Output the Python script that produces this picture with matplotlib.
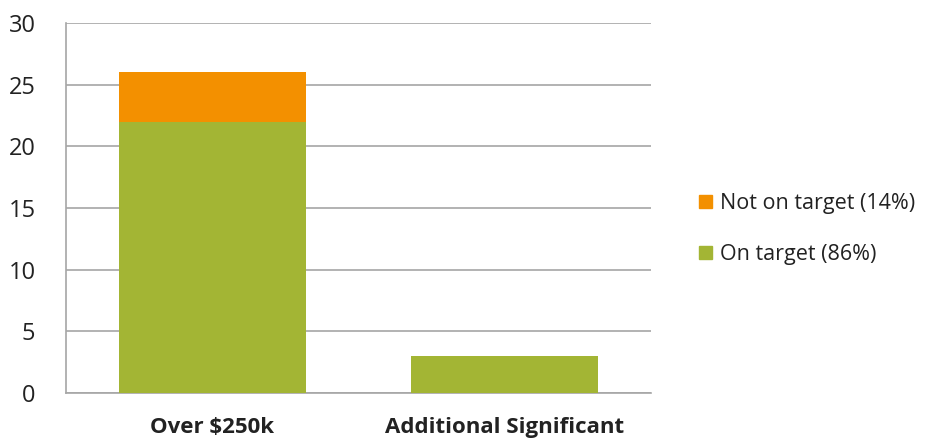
import matplotlib

matplotlib.use("Agg")
import matplotlib.pyplot as plt
from matplotlib.patches import Patch

categories = ["Over $250k", "Additional Significant"]
on_target = [22, 3]
not_on_target = [4, 0]
series_labels = ["Not on target (14%)", "On target (86%)"]

GREEN = "#A3B534"
ORANGE = "#F39000"
GRID = "#A6A6A6"

plt.rcParams["font.family"] = ["Open Sans", "DejaVu Sans"]

fig = plt.figure(figsize=(9.29, 4.41), dpi=100)
ax = fig.add_axes([66 / 929, 1 - 393 / 441, (651 - 66) / 929, (393 - 23) / 441])

x = list(range(len(categories)))
width = 0.64
ax.bar(x, on_target, width=width, color=GREEN, zorder=3)
ax.bar(x, not_on_target, width=width, bottom=on_target, color=ORANGE, zorder=3)

ax.set_xlim(-0.5, len(categories) - 0.5)
ax.set_ylim(0, 30)
ax.set_yticks(range(0, 31, 5))
ax.yaxis.grid(True, color=GRID, linewidth=1.2, zorder=0)
ax.set_axisbelow(True)

for s in ["top", "right"]:
    ax.spines[s].set_visible(False)
for s in ["left", "bottom"]:
    ax.spines[s].set_color(GRID)
    ax.spines[s].set_linewidth(1.2)

ax.tick_params(axis="y", length=0, pad=22, labelsize=17, colors="#222222")
ax.tick_params(axis="x", length=0, pad=17, labelsize=16, colors="#222222")
ax.set_xticks(x)
ax.set_xticklabels(categories, fontweight="bold")

handles = [Patch(color=ORANGE), Patch(color=GREEN)]
fig.legend(handles, series_labels, loc="center left", bbox_to_anchor=(680 / 929, 1 - 229 / 441),
           frameon=False, fontsize=15.5, handlelength=0.6, handleheight=0.6,
           handletextpad=0.35, labelspacing=1.4, labelcolor="#222222")

fig.savefig("out.png", dpi=100)
